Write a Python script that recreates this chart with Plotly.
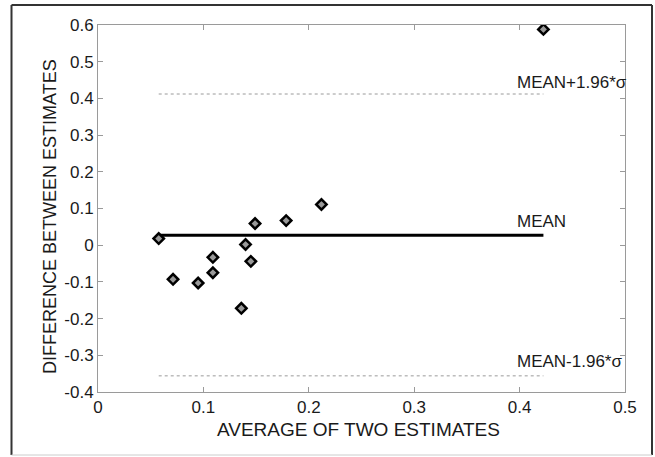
import plotly.graph_objects as go

# Data
avg_estimates = [0.0576, 0.0712, 0.095, 0.109, 0.109, 0.136, 0.140, 0.145, 0.149, 0.1785, 0.212, 0.4226]
diff_estimates = [0.018, -0.093, -0.103, -0.033, -0.075, -0.172, 0.002, -0.044, 0.059, 0.067, 0.111, 0.588]
mean_value = 0.027
upper_limit = 0.412
lower_limit = -0.356

x_tickvals = [0, 0.1, 0.2, 0.3, 0.4, 0.5]
x_ticktext = ["0", "0.1", "0.2", "0.3", "0.4", "0.5"]
y_tickvals = [-0.4, -0.3, -0.2, -0.1, 0, 0.1, 0.2, 0.3, 0.4, 0.5, 0.6]
y_ticktext = ["-0.4", "-0.3", "-0.2", "-0.1", "0", "0.1", "0.2", "0.3", "0.4", "0.5", "0.6"]

line_labels = ["MEAN+1.96*σ", "MEAN", "MEAN-1.96*σ"]
label_y = [0.444, 0.065, -0.316]

FONT = "Liberation Sans, Arial, sans-serif"
x_span = [min(avg_estimates), max(avg_estimates)]

fig = go.Figure()
fig.add_trace(go.Scatter(x=x_span, y=[upper_limit, upper_limit], mode="lines",
                         line=dict(color="#9a9a9a", width=1, dash="dot"), hoverinfo="skip"))
fig.add_trace(go.Scatter(x=x_span, y=[lower_limit, lower_limit], mode="lines",
                         line=dict(color="#9a9a9a", width=1, dash="dot"), hoverinfo="skip"))
fig.add_trace(go.Scatter(x=x_span, y=[mean_value, mean_value], mode="lines",
                         line=dict(color="black", width=3), hoverinfo="skip"))
fig.add_trace(go.Scatter(x=avg_estimates, y=diff_estimates, mode="markers",
                         marker=dict(symbol="diamond", size=8, color="#999999",
                                     line=dict(color="black", width=2.5))))

for txt, yy in zip(line_labels, label_y):
    fig.add_annotation(x=0.396, y=yy, xref="x", yref="y", text=txt, showarrow=False,
                       xanchor="left", yanchor="middle",
                       font=dict(family=FONT, size=17, color="#1a1a1a"))

# Axis titles as annotations for precise placement
L, R, T, B = 98, 30, 25, 65
W, H = 655, 457
pw, ph = W - L - R, H - T - B

def px(xp):
    return (xp - L) / pw

def py(yp):
    return (H - B - yp) / ph

fig.add_annotation(x=px(358), y=py(429), xref="paper", yref="paper",
                   text="AVERAGE OF TWO ESTIMATES", showarrow=False,
                   xanchor="center", yanchor="middle",
                   font=dict(family=FONT, size=19, color="#1a1a1a"))
fig.add_annotation(x=px(50), y=py(217), xref="paper", yref="paper",
                   text="DIFFERENCE BETWEEN ESTIMATES", showarrow=False, textangle=-90,
                   xanchor="center", yanchor="middle",
                   font=dict(family=FONT, size=18, color="#1a1a1a"))

# Outer frame
fig.add_shape(type="line", xref="paper", yref="paper", x0=px(11.5), x1=px(11.5), y0=py(5), y1=py(455),
              line=dict(color="#333333", width=2))
fig.add_shape(type="line", xref="paper", yref="paper", x0=px(11.5), x1=px(652), y0=py(5), y1=py(5),
              line=dict(color="#333333", width=2))
fig.add_shape(type="line", xref="paper", yref="paper", x0=px(652), x1=px(652), y0=py(5), y1=py(455),
              line=dict(color="#333333", width=2))
fig.add_shape(type="line", xref="paper", yref="paper", x0=px(11.5), x1=px(652), y0=py(455), y1=py(455),
              line=dict(color="#cccccc", width=1))

axis_common = dict(showgrid=False, zeroline=False, showline=True, linecolor="#9a9a9a", linewidth=1,
                   mirror="ticks", ticks="inside", ticklen=5, tickcolor="#9a9a9a",
                   tickfont=dict(family=FONT, size=17, color="#1a1a1a"))

fig.update_xaxes(range=[0, 0.5], tickvals=x_tickvals, ticktext=x_ticktext, **axis_common)
fig.update_yaxes(range=[-0.4, 0.6], tickvals=y_tickvals, ticktext=y_ticktext, **axis_common)

fig.update_layout(width=W, height=H, margin=dict(l=L, r=R, t=T, b=B),
                  paper_bgcolor="white", plot_bgcolor="white", showlegend=False)

fig.write_html("out.html", config={"displayModeBar": False},
               post_script="document.body.style.margin='0';document.body.style.overflow='hidden';")
